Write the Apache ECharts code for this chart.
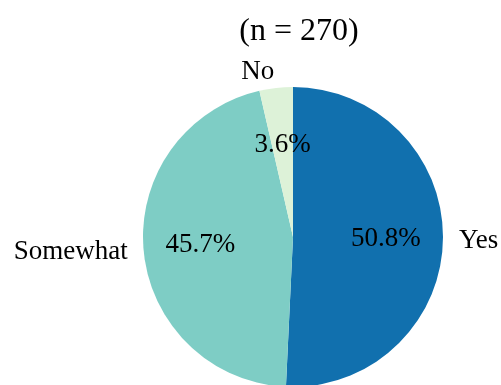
<!DOCTYPE html>
<html>
<head>
<meta charset="utf-8">
<script src="https://cdn.jsdelivr.net/npm/echarts@6/dist/echarts.min.js"></script>
<style>
  html, body { margin: 0; padding: 0; background: #ffffff; }
  #chart { width: 501px; height: 385px; }
</style>
</head>
<body>
<div id="chart"></div>
<script>
// Survey responses (share of respondents, %)
const categories = ['Yes', 'Somewhat', 'No'];
const shares = [50.8, 45.7, 3.6];
const sliceColors = ['#1170ae', '#7ecdc5', '#ddf2d8'];
const titleText = '(n = 270)';

const serif = '"Liberation Serif", "Times New Roman", serif';
const cx = 293, cy = 237, R = 150;

const pieData = categories.map((name, i) => ({
  name: name,
  value: shares[i],
  itemStyle: { color: sliceColors[i] }
}));

const chart = echarts.init(document.getElementById('chart'), null, { renderer: 'canvas' });

chart.setOption({
  animation: false,
  backgroundColor: '#ffffff',
  title: {
    text: titleText,
    left: cx + 1,
    top: 11,
    textAlign: 'center',
    textStyle: { fontFamily: serif, fontSize: 32, fontWeight: 'normal', color: '#000' }
  },
  series: [
    {
      // the wedges with their category names outside
      type: 'pie',
      center: [cx, cy],
      radius: [0, R],
      startAngle: 90,
      clockwise: true,
      avoidLabelOverlap: false,
      itemStyle: { borderWidth: 0 },
      label: {
        show: true,
        position: 'outside',
        formatter: '{b}',
        fontFamily: serif,
        fontSize: 27,
        color: '#000',
        distanceToLabelLine: 0
      },
      labelLine: { show: false, length: 16, length2: 0 },
      emphasis: { disabled: true },
      data: pieData
    },
    {
      // percentage labels placed at 60% of the radius
      type: 'pie',
      center: [cx, cy],
      radius: [0, R * 1.2],
      startAngle: 90,
      clockwise: true,
      silent: true,
      avoidLabelOverlap: false,
      itemStyle: { color: 'rgba(0,0,0,0)', borderWidth: 0 },
      label: {
        show: true,
        position: 'inside',
        formatter: (p) => p.value.toFixed(1) + '%',
        fontFamily: serif,
        fontSize: 27,
        color: '#000'
      },
      labelLine: { show: false },
      emphasis: { disabled: true },
      data: categories.map((name, i) => ({ name: name, value: shares[i] }))
    }
  ]
});
</script>
</body>
</html>
